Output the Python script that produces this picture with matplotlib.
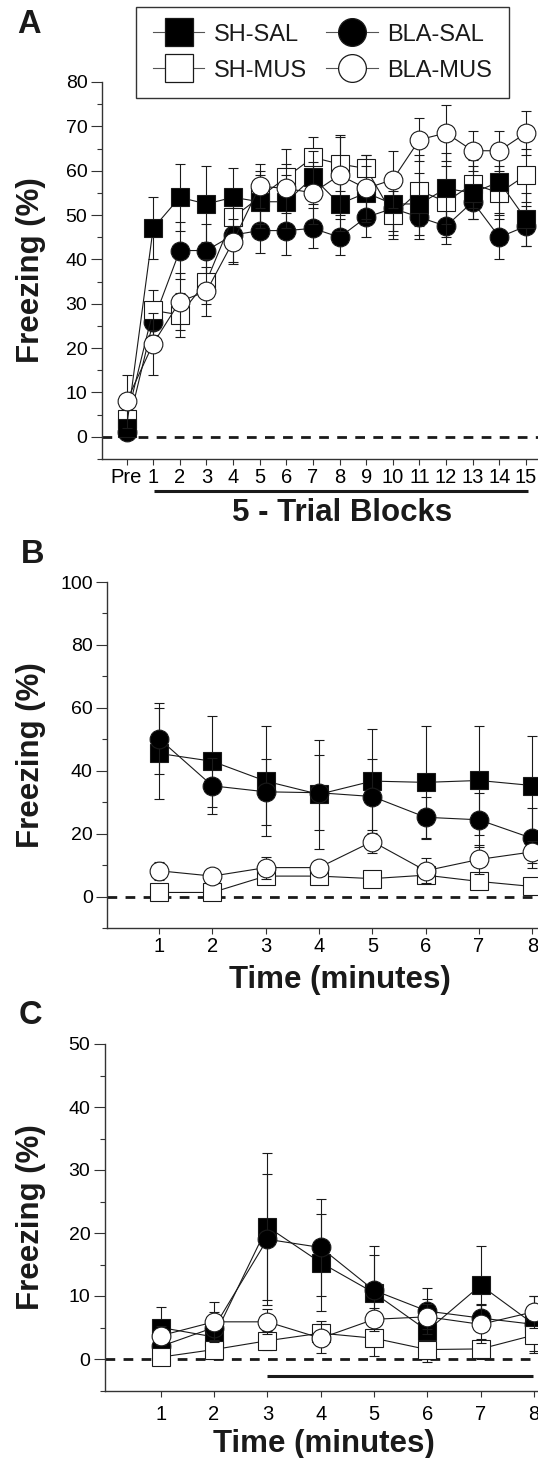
import matplotlib
matplotlib.use('Agg')

import matplotlib.pyplot as plt
from matplotlib.lines import Line2D
import numpy as np

plt.rcParams['font.family'] = ['Liberation Sans', 'DejaVu Sans']

W, H = 538, 1458

# ---- Panel A: acquisition, 5-trial blocks ----
block_labels = ['Pre'] + [str(i) for i in range(1, 16)]
blocks = np.arange(len(block_labels))

sh_sal_a = [2, 47, 54, 52.5, 54, 53, 53, 58.5, 52.5, 55, 52.5, 52.5, 56, 55, 57.5, 49]
sh_sal_err_a = [1, 7, 7.5, 8.5, 6.5, 6, 6, 6, 6, 6, 7, 7, 8, 6, 7, 6]
bla_sal_a = [1, 26, 42, 42, 45.5, 46.5, 46.5, 47, 45, 49.5, 51.5, 49.5, 47.5, 53, 45, 47.5]
bla_sal_err_a = [1, 3, 6.5, 6, 6, 5, 5.5, 4.5, 4, 4.5, 5, 5, 4, 4, 5, 4.5]
sh_mus_a = [4, 28.5, 27.5, 35, 49.5, 54, 58.5, 63, 61.5, 60.5, 50, 55.5, 53, 57, 55, 59]
sh_mus_err_a = [2, 4.5, 5, 5, 5, 6, 6.5, 4.5, 6, 3, 5.5, 8, 8, 5.5, 6, 6]
bla_mus_a = [8, 21, 30.5, 32.8, 44, 56.5, 56, 55, 59, 56, 58, 67, 68.5, 64.5, 64.5, 68.5]
bla_mus_err_a = [6, 7, 6.5, 5.5, 5, 5, 5.5, 7, 9, 7.5, 6.5, 4.8, 6.3, 4.5, 4.5, 5]

# ---- Panel B / C: minutes ----
minutes = np.arange(1, 9)

sh_sal_b = [45.5, 43, 36.7, 32.5, 36.7, 36.3, 36.9, 35.3]
sh_sal_err_b = [14.5, 14.5, 17.4, 17.4, 16.5, 18, 17.3, 15.6]
bla_sal_b = [50.2, 35.2, 33.3, 33, 31.8, 25.2, 24.4, 18.5]
bla_sal_err_b = [11.3, 9, 10.5, 12, 12, 6.5, 8.5, 9.5]
sh_mus_b = [1.3, 1.3, 6.5, 6.5, 5.7, 6.8, 4.8, 3.2]
sh_mus_err_b = [1, 1, 1.5, 1.5, 1, 1.5, 1.5, 1]
bla_mus_b = [8.2, 6.5, 9.2, 9.2, 17.5, 8.2, 11.8, 14.2]
bla_mus_err_b = [2.8, 2, 3.5, 2.5, 3.6, 4, 4.5, 3.5]

sh_sal_c = [5, 3.5, 21, 15.3, 10.5, 4.5, 11.7, 5.5]
sh_sal_err_c = [3.2, 2, 11.7, 7.7, 6, 5, 6.3, 4.5]
bla_sal_c = [2, 5, 19, 17.7, 10.9, 7.6, 6.5, 5.5]
bla_sal_err_c = [1.5, 2.5, 10.4, 7.7, 7, 3.6, 2.2, 2.5]
sh_mus_c = [0.3, 1.5, 2.9, 4.1, 3.3, 1.5, 1.6, 3.8]
sh_mus_err_c = [0.5, 1.5, 1.5, 2, 2.8, 1.5, 1.6, 2.5]
bla_mus_c = [3.7, 5.9, 5.9, 3.3, 6.3, 6.7, 5.5, 7.5]
bla_mus_err_c = [1.5, 3.2, 2, 2.3, 1.8, 2, 3, 2.5]

# marker style per group
styles = {
    'SH-SAL': dict(marker='s', mfc='black'),
    'BLA-SAL': dict(marker='o', mfc='black'),
    'SH-MUS': dict(marker='s', mfc='white'),
    'BLA-MUS': dict(marker='o', mfc='white'),
}
INK = '#1a1a1a'


def px_axes(left, top, right, bottom):
    """Axes rectangle from pixel edges (origin top-left)."""
    return [left / W, 1 - bottom / H, (right - left) / W, (bottom - top) / H]


def draw_series(ax, x, y, err, name, z):
    ax.errorbar(x, y, yerr=err, color=INK, lw=0.8, elinewidth=0.8,
                capsize=3.6, capthick=0.8, ms=13.5, mec=INK, mew=0.8,
                zorder=z, clip_on=False, **styles[name])


def style_axes(ax, ymin, ymax, major, minor, xsize=14.5):
    for s in ['top', 'right']:
        ax.spines[s].set_visible(False)
    for s in ['left', 'bottom']:
        ax.spines[s].set_color('#333333')
        ax.spines[s].set_linewidth(1.0)
    ax.set_ylim(ymin, ymax)
    ax.set_yticks(np.arange(0, ymax + 0.1, major))
    ax.set_yticks(np.arange(ymin, ymax + 0.1, minor), minor=True)
    ax.tick_params(axis='y', which='major', length=8, width=0.8,
                   color='#333333', labelsize=14, pad=2.5)
    ax.tick_params(axis='y', which='minor', length=3.8, width=0.8,
                   color='#333333')
    ax.tick_params(axis='x', length=4.3, width=0.8, color='#333333',
                   labelsize=xsize, pad=2.5)
    ax.axhline(0, color=INK, lw=2.0, ls=(0, (3.5, 3)), zorder=1)


fig = plt.figure(figsize=(W / 100, H / 100), dpi=100)

# ---------------- A ----------------
axA = fig.add_axes(px_axes(102, 82, 538, 459))
axA.set_xlim(-0.92, 15.45)
style_axes(axA, -5, 80, 10, 5)
axA.set_xticks(blocks)
axA.set_xticklabels(block_labels)
draw_series(axA, blocks, bla_sal_a, bla_sal_err_a, 'BLA-SAL', 3)
draw_series(axA, blocks, sh_mus_a, sh_mus_err_a, 'SH-MUS', 4)
draw_series(axA, blocks, sh_sal_a, sh_sal_err_a, 'SH-SAL', 5)
draw_series(axA, blocks, bla_mus_a, bla_mus_err_a, 'BLA-MUS', 6)
axA.plot([blocks[1] + 0.05, blocks[-1] + 0.08], [-12.2, -12.2], color=INK,
         lw=2.2, clip_on=False, solid_capstyle='butt')

# ---------------- B ----------------
axB = fig.add_axes(px_axes(107.3, 582, 538, 928))
axB.set_xlim(0.03, 8.107)
style_axes(axB, -10, 100, 20, 10)
axB.set_xticks(minutes)
draw_series(axB, minutes, sh_sal_b, sh_sal_err_b, 'SH-SAL', 3)
draw_series(axB, minutes, bla_sal_b, bla_sal_err_b, 'BLA-SAL', 4)
draw_series(axB, minutes, sh_mus_b, sh_mus_err_b, 'SH-MUS', 5)
draw_series(axB, minutes, bla_mus_b, bla_mus_err_b, 'BLA-MUS', 6)

# ---------------- C ----------------
axC = fig.add_axes(px_axes(105, 1044, 538, 1390.5))
axC.set_xlim(-0.044, 8.075)
style_axes(axC, -5, 50, 10, 5)
axC.set_xticks(minutes)
axC.tick_params(axis='x', pad=6.5)
draw_series(axC, minutes, sh_sal_c, sh_sal_err_c, 'SH-SAL', 3)
draw_series(axC, minutes, bla_sal_c, bla_sal_err_c, 'BLA-SAL', 4)
draw_series(axC, minutes, sh_mus_c, sh_mus_err_c, 'SH-MUS', 5)
draw_series(axC, minutes, bla_mus_c, bla_mus_err_c, 'BLA-MUS', 6)
axC.plot([3, 7.98], [-2.65, -2.65], color=INK, lw=2.2, clip_on=False,
         solid_capstyle='butt')

# ---------------- text ----------------
for cy in [270.5, 755, 1217]:
    fig.text(31 / W, 1 - cy / H, 'Freezing (%)', rotation=90, ha='center',
             va='center', fontsize=22.5, fontweight='bold', color=INK)

fig.text(342 / W, 1 - 521 / H, '5 - Trial Blocks', ha='center',
         va='baseline', fontsize=22.5, fontweight='bold', color=INK)
fig.text(340 / W, 1 - 988 / H, 'Time (minutes)', ha='center',
         va='baseline', fontsize=22.5, fontweight='bold', color=INK)
fig.text(323.5 / W, 1 - 1452 / H, 'Time (minutes)', ha='center',
         va='baseline', fontsize=22.5, fontweight='bold', color=INK)

for lab, lx, by in [('A', 17, 33), ('B', 20.5, 563), ('C', 19, 1024)]:
    fig.text(lx / W, 1 - by / H, lab, ha='left', va='baseline',
             fontsize=23.5, fontweight='bold', color=INK)

# ---------------- legend ----------------
order = ['SH-SAL', 'SH-MUS', 'BLA-SAL', 'BLA-MUS']
handles = [Line2D([], [], color='#555555', lw=0.8, ms=20, mec=INK, mew=0.9,
                  **styles[n]) for n in order]
leg = fig.legend(handles, order, loc='upper left', ncol=2,
                 bbox_to_anchor=(136 / W, 1 - 7 / H), fontsize=17,
                 frameon=True, fancybox=False, framealpha=1,
                 edgecolor='#333333', handlelength=2.2,
                 handletextpad=0.4, columnspacing=0.8, labelspacing=0.6,
                 borderpad=0.7, borderaxespad=0)
leg.get_frame().set_linewidth(1.0)
for t in leg.get_texts():
    t.set_color(INK)

fig.savefig('out.png', dpi=100)
